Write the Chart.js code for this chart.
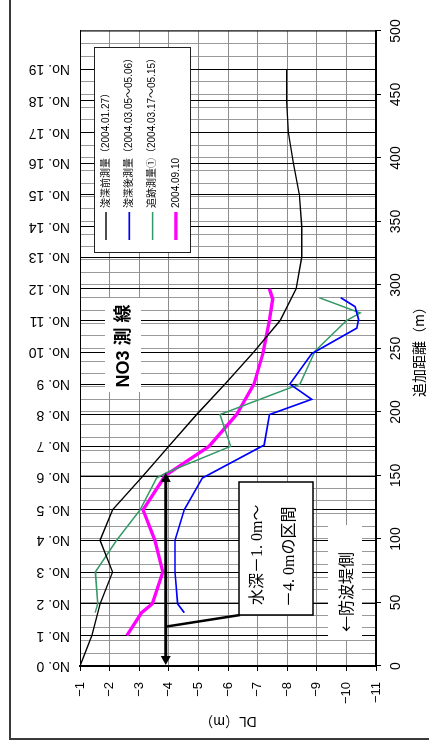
<!DOCTYPE html>
<html>
<head>
<meta charset="utf-8">
<script src="https://cdn.jsdelivr.net/npm/chart.js@4.4.1/dist/chart.umd.min.js"></script>
<style>
  html, body { margin: 0; padding: 0; background: #fff; overflow: hidden; width: 429px; height: 749px; }
  /* the chart is laid out landscape and turned a quarter turn counter-clockwise */
  #wrap { position: absolute; left: 0; top: 0; width: 749px; height: 429px;
          transform-origin: 0 0; transform: translateY(749px) rotate(-90deg); }
  canvas { display: block; }
</style>
</head>
<body>
<div id="wrap"><canvas id="c" width="749" height="429"></canvas></div>
<script>
// Survey stations along the NO3 line (added distance, m)
const STATION_DIST = [0, 24, 49, 74, 99, 123, 149, 173, 198, 222, 247, 272, 297, 322, 346, 371, 396, 420, 445, 470];
const STATION_LABELS = STATION_DIST.map((_, i) => 'No. ' + i);

// 浚渫前測量 (2004.01.27)
const BEFORE_DIST = STATION_DIST;
const BEFORE_DL = [-1.00, -1.40, -1.68, -2.10, -1.68, -2.10, -3.10, -4.00, -4.94, -5.90,
                   -6.86, -7.76, -8.30, -8.49, -8.49, -8.41, -8.21, -8.04, -7.98, -7.98];

// 浚渫後測量 (2004.03.05~05.06)
const AFTER_DIST = [42, 49, 74, 99, 123, 148, 174, 198, 210, 222, 246, 266, 273, 283, 290];
const AFTER_DL = [-4.52, -4.30, -4.21, -4.21, -4.52, -5.13, -7.22, -7.40, -8.83, -8.09,
                  -8.83, -10.35, -10.41, -10.29, -9.81];

// 追跡測量① (2004.03.17~05.15)
const FOLLOW_DIST = [42, 49, 74, 99, 123, 148, 152, 173, 198, 222, 248, 272, 278, 290];
const FOLLOW_DL = [-1.51, -1.60, -1.52, -2.24, -3.03, -3.59, -3.90, -6.09, -5.73, -8.43,
                   -8.94, -10.00, -10.47, -9.08];

// 2004.09.10
const SEPT_DIST = [24, 42, 49, 74, 99, 123, 150, 173, 198, 222, 247, 272, 289, 297];
const SEPT_DL = [-2.58, -3.08, -3.44, -3.80, -3.53, -3.13, -3.88, -5.36, -6.29, -6.88,
                 -7.19, -7.40, -7.51, -7.40];

// Axis ranges and ticks
const DIST_MIN = 0, DIST_MAX = 500, DIST_GRID_STEP = 10, DIST_LABEL_STEP = 50;
const DL_MIN = -11, DL_MAX = -1, DL_STEP = 1;

// The -1.0 m to -4.0 m interval marker
const SPAN_DL = -3.9;
const SPAN_FROM = 0.8, SPAN_TO = 152, LEADER_AT = 31;

const SERIES_LABELS = ['浚渫前測量（2004.01.27）', '浚渫後測量（2004.03.05～05.06）', '追跡測量①（2004.03.17～05.15）', '2004.09.10'];

const pts = (xs, ys) => xs.map((x, i) => ({ x: x, y: ys[i] }));

const SANS = '"Liberation Sans", "Noto Sans CJK JP", sans-serif';
const NARROW = '"Liberation Sans Narrow", "Liberation Sans", "Noto Sans CJK JP", sans-serif';
const CJK = '"Noto Sans CJK JP", "Liberation Sans", sans-serif';
const SERIF = '"Liberation Serif", "Noto Sans CJK JP", serif';

Chart.defaults.font.family = SANS;
Chart.defaults.color = '#000';

const decor = {
  id: 'decor',
  beforeDraw(chart) {
    const ctx = chart.ctx;
    ctx.save();
    ctx.fillStyle = '#fff';
    ctx.fillRect(0, 0, chart.width, chart.height);
    ctx.restore();
  },
  afterDatasetsDraw(chart) {
    const ctx = chart.ctx, ca = chart.chartArea;
    const sx = chart.scales.x, sy = chart.scales.y;
    ctx.save();

    // double-headed arrow for the dredged interval
    const yA = sy.getPixelForValue(SPAN_DL);
    const x0 = sx.getPixelForValue(SPAN_FROM), x1 = sx.getPixelForValue(SPAN_TO);
    const head = 9, half = 5;
    ctx.strokeStyle = '#000'; ctx.fillStyle = '#000'; ctx.lineWidth = 3;
    ctx.beginPath(); ctx.moveTo(x0 + head - 1, yA); ctx.lineTo(x1 - head + 1, yA); ctx.stroke();
    ctx.beginPath(); ctx.moveTo(x0, yA); ctx.lineTo(x0 + head, yA - half); ctx.lineTo(x0 + head, yA + half); ctx.closePath(); ctx.fill();
    ctx.beginPath(); ctx.moveTo(x1, yA); ctx.lineTo(x1 - head, yA - half); ctx.lineTo(x1 - head, yA + half); ctx.closePath(); ctx.fill();

    // callout box
    const bx = ca.left + 51, by = ca.top + 159, bw = 133, bh = 74;
    ctx.lineWidth = 2.5;
    ctx.beginPath(); ctx.moveTo(sx.getPixelForValue(LEADER_AT), yA); ctx.lineTo(bx, by + 1); ctx.stroke();
    ctx.fillStyle = '#fff'; ctx.fillRect(bx, by, bw, bh);
    ctx.lineWidth = 1.5; ctx.strokeStyle = '#000'; ctx.strokeRect(bx, by, bw, bh);
    ctx.fillStyle = '#000'; ctx.font = '16px ' + SERIF; ctx.textBaseline = 'middle'; ctx.textAlign = 'left';
    ctx.fillText('水深－1. 0m～', bx + 10, by + 19);
    ctx.fillText('－4. 0mの区間', bx + 8, by + 51);

    // line name
    ctx.fillStyle = '#fff'; ctx.fillRect(ca.left + 274, ca.top + 25, 94, 36);
    ctx.fillStyle = '#000'; ctx.font = 'bold 18px ' + SANS; ctx.textAlign = 'center';
    ctx.fillText('NO3 測 線', ca.left + 320, ca.top + 44);

    // breakwater side note
    ctx.fillStyle = '#fff'; ctx.fillRect(ca.left + 26, ca.top + 248, 115, 34);
    ctx.fillStyle = '#000'; ctx.font = '16px ' + CJK; ctx.textAlign = 'left';
    ctx.fillText('←防波堤側', ca.left + 34, ca.top + 266);

    // legend
    const lx = ca.left + 413, ly = ca.top + 14, lw = 205, lh = 96;
    ctx.fillStyle = '#fff'; ctx.fillRect(lx, ly, lw, lh);
    ctx.lineWidth = 1; ctx.strokeStyle = '#222'; ctx.strokeRect(lx + 0.5, ly + 0.5, lw, lh);
    ctx.font = '10px ' + SANS;
    chart.data.datasets.forEach((ds, i) => {
      const yy = ly + 12 + i * 23.3;
      ctx.strokeStyle = ds.borderColor; ctx.lineWidth = ds.borderWidth;
      ctx.beginPath(); ctx.moveTo(lx + 13, yy); ctx.lineTo(lx + 41, yy); ctx.stroke();
      ctx.fillStyle = '#000';
      ctx.fillText(ds.label, lx + 45, yy);
    });
    ctx.restore();
  },
  afterDraw(chart) {
    const ctx = chart.ctx, ca = chart.chartArea;
    const ss = chart.scales.stations;
    ctx.save();
    // station names above the plot
    ctx.fillStyle = '#000'; ctx.font = '14px ' + NARROW;
    ctx.textAlign = 'left'; ctx.textBaseline = 'middle';
    STATION_DIST.forEach((d, i) => {
      ctx.save();
      ctx.translate(ss.getPixelForValue(d), ca.top - 10);
      ctx.rotate(-Math.PI / 2);
      ctx.fillText(STATION_LABELS[i], 0, 0);
      ctx.restore();
    });
    // plot frame
    ctx.strokeStyle = '#000'; ctx.lineWidth = 1;
    ctx.beginPath(); ctx.moveTo(ca.right, ca.top); ctx.lineTo(ca.right, ca.bottom); ctx.stroke();
    // outer frame
    ctx.strokeStyle = '#3a3a3a'; ctx.lineWidth = 2;
    ctx.beginPath(); ctx.moveTo(chart.width, 10); ctx.lineTo(10, 10); ctx.lineTo(10, chart.height); ctx.stroke();
    ctx.restore();
  }
};

new Chart(document.getElementById('c'), {
  type: 'line',
  data: {
    datasets: [
      { label: SERIES_LABELS[0], data: pts(BEFORE_DIST, BEFORE_DL), borderColor: '#000000', borderWidth: 1.4 },
      { label: SERIES_LABELS[1], data: pts(AFTER_DIST, AFTER_DL), borderColor: '#0000ff', borderWidth: 1.7 },
      { label: SERIES_LABELS[2], data: pts(FOLLOW_DIST, FOLLOW_DL), borderColor: '#339966', borderWidth: 1.5 },
      { label: SERIES_LABELS[3], data: pts(SEPT_DIST, SEPT_DL), borderColor: '#ff00ff', borderWidth: 3.3 }
    ]
  },
  options: {
    responsive: false,
    animation: false,
    devicePixelRatio: 1,
    layout: { padding: { left: 0, top: 0, right: 31, bottom: 0 } },
    elements: { point: { radius: 0 }, line: { tension: 0, fill: false } },
    plugins: { legend: { display: false }, tooltip: { enabled: false } },
    scales: {
      x: {
        type: 'linear', position: 'bottom', min: DIST_MIN, max: DIST_MAX,
        ticks: {
          stepSize: DIST_GRID_STEP, autoSkip: false, maxRotation: 0, padding: 7,
          font: { size: 14, family: NARROW },
          callback: v => (v % DIST_LABEL_STEP === 0 ? String(v) : '')
        },
        grid: {
          color: '#9a9a9a', lineWidth: 1, tickLength: 5,
          tickColor: c => (c.tick && c.tick.value % DIST_LABEL_STEP === 0 ? '#000' : 'rgba(0,0,0,0)')
        },
        border: { color: '#000', width: 2 },
        title: { display: true, text: '追加距離（m）', font: { size: 14, family: CJK }, padding: { top: 0, bottom: 2 } },
        afterFit: s => { s.height = 53; }
      },
      y: {
        type: 'linear', position: 'left', min: DL_MIN, max: DL_MAX,
        ticks: {
          stepSize: DL_STEP, padding: 11, font: { size: 13 },
          callback: v => String(v).replace('-', '−')
        },
        grid: { color: '#8c8c8c', lineWidth: 1, tickLength: 5, tickColor: '#000' },
        border: { color: '#000', width: 2 },
        title: { display: true, text: 'DL（m）', font: { size: 14, family: SANS }, padding: { top: 20, bottom: 0 } },
        afterFit: s => { s.width = 83; }
      },
      stations: {
        type: 'linear', position: 'top', min: DIST_MIN, max: DIST_MAX,
        afterBuildTicks: s => { s.ticks = STATION_DIST.map(v => ({ value: v })); },
        ticks: { display: false },
        grid: { color: '#000', lineWidth: 1, drawTicks: false },
        border: { color: '#000', width: 1 },
        afterFit: s => { s.height = 80; }
      }
    }
  },
  plugins: [decor]
});
</script>
</body>
</html>
